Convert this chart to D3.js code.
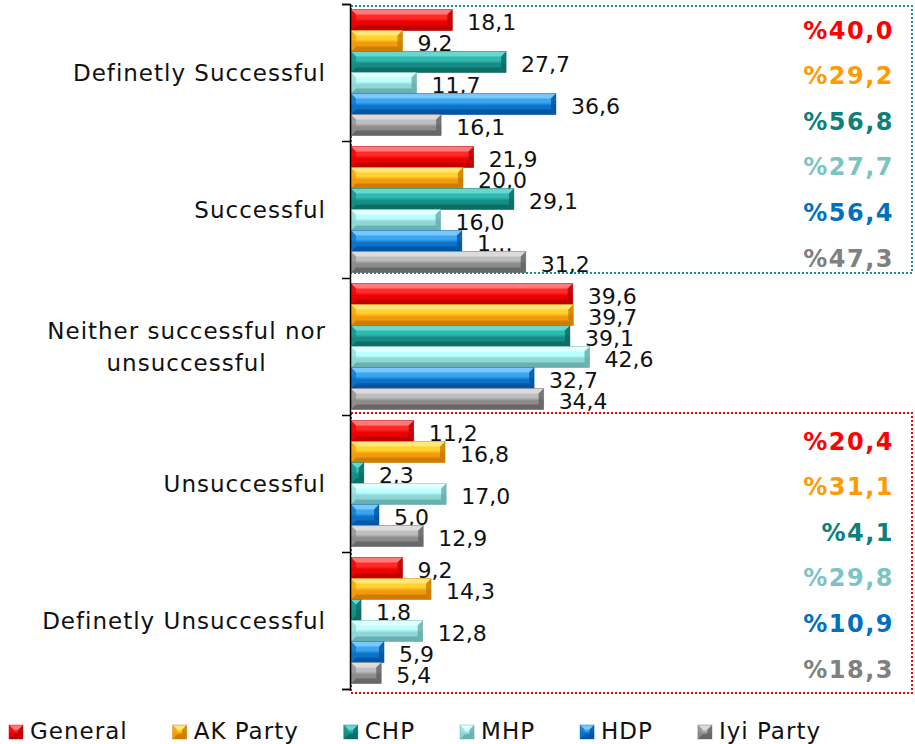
<!DOCTYPE html>
<html lang="en">
<head>
<meta charset="utf-8">
<title>Success ratings by party</title>
<script src="https://cdn.jsdelivr.net/npm/d3@7"></script>
<style>
  body { margin: 0; background: #fff; }
  svg { display: block; font-family: "DejaVu Sans", Verdana, sans-serif; }
  .cat { font-size: 23px; letter-spacing: 1px; fill: #111; }
  .val { font-size: 22px; fill: #111; }
  .pct { font-size: 24px; font-weight: bold; letter-spacing: 1.5px; }
  .legend text { font-size: 23px; letter-spacing: 1px; fill: #111; }
  .axis path, .axis line { stroke: #000; stroke-width: 1.5px; }
</style>
</head>
<body>
<svg width="915" height="744"></svg>
<script>
// data
var categories = ["Definetly Successful", "Successful", "Neither successful nor unsuccessful", "Unsuccessful", "Definetly Unsuccessful"];
var catLines = [["Definetly Successful"], ["Successful"], ["Neither successful nor", "unsuccessful"], ["Unsuccessful"], ["Definetly Unsuccessful"]];
var series = ["General", "AK Party", "CHP", "MHP", "HDP", "Iyi Party"];
var general  = [18.1, 21.9, 39.6, 11.2, 9.2];
var akParty  = [9.2, 20.0, 39.7, 16.8, 14.3];
var chp      = [27.7, 29.1, 39.1, 2.3, 1.8];
var mhp      = [11.7, 16.0, 42.6, 17.0, 12.8];
var hdp      = [36.6, 19.8, 32.7, 5.0, 5.9];
var iyiParty = [16.1, 31.2, 34.4, 12.9, 5.4];
// the label excel cut short
var shortLabels = [{category: "Successful", series: "HDP", text: "1\u2026"}];
var successGroup = ["Definetly Successful", "Successful"];
var failGroup = ["Unsuccessful", "Definetly Unsuccessful"];

var values = [general, akParty, chp, mhp, hdp, iyiParty];

// colours: highlight, upper body, lower body, shade
var shades = [
  ["#ff8a8a", "#ff2a2a", "#ec0000", "#b40000"],
  ["#ffeb8a", "#ffd22e", "#f39a0c", "#c47600"],
  ["#74dcd4", "#2fbab0", "#168c84", "#0a6660"],
  ["#eaffff", "#bcffff", "#8fd6d6", "#5fa6a6"],
  ["#86ccff", "#3aa6f2", "#0c72c8", "#004f9e"],
  ["#e0e0e0", "#bebebe", "#8c8c8c", "#5e5e5e"]
];
var pctColors = ["#ff0000", "#ff9a00", "#0e807a", "#7cc4c4", "#0070c0", "#808080"];

var svg = d3.select("svg");
var defs = svg.append("defs");

shades.forEach(function(c, i) {
  var gr = defs.append("linearGradient").attr("id", "grad" + i)
    .attr("x1", 0).attr("y1", 0).attr("x2", 0).attr("y2", 1);
  gr.append("stop").attr("offset", 0).attr("stop-color", c[1]);
  gr.append("stop").attr("offset", 0.42).attr("stop-color", c[1]);
  gr.append("stop").attr("offset", 0.58).attr("stop-color", c[2]);
  gr.append("stop").attr("offset", 1).attr("stop-color", c[2]);
});

var x = d3.scaleLinear().domain([0, 100]).range([351, 911]);
var y = d3.scaleBand().domain(categories).range([4, 689]);
var inner = d3.scaleBand().domain(series).range([0, y.bandwidth()]).paddingOuter(0.26);
var yEdge = d3.scaleLinear().domain([0, categories.length]).range([4, 689]);

function bevelBar(sel, w, h, i) {
  var c = shades[i];
  var b = Math.min(5, w / 2, h / 3);
  sel.append("rect").attr("width", w).attr("height", h).attr("fill", "url(#grad" + i + ")");
  var faces = [
    {p: [[0, 0], [w, 0], [w - b, b], [b, b]], f: c[0], o: 0.85},
    {p: [[0, h], [w, h], [w - b, h - b], [b, h - b]], f: c[3], o: 0.8},
    {p: [[0, 0], [b, b], [b, h - b], [0, h]], f: c[2], o: 0.7},
    {p: [[w, 0], [w - b, b], [w - b, h - b], [w, h]], f: c[3], o: 0.75}
  ];
  faces.forEach(function(fc) {
    sel.append("polygon").attr("points", fc.p.map(function(q) { return q.join(","); }).join(" "))
      .attr("fill", fc.f).attr("fill-opacity", fc.o);
  });
  sel.append("rect").attr("width", w).attr("height", h)
    .attr("fill", "none").attr("stroke", c[3]).attr("stroke-opacity", 0.5).attr("stroke-width", 0.8);
}

// dotted boxes + group totals
var boxes = [
  {cats: successGroup, color: "#1a8f8a", pad: [2, -5]},
  {cats: failGroup, color: "#ff0000", pad: [-2, 4]}
];
boxes.forEach(function(bx) {
  var top = y(bx.cats[0]) + bx.pad[0];
  var bottom = y(bx.cats[bx.cats.length - 1]) + y.bandwidth() + bx.pad[1];
  svg.append("rect")
    .attr("x", 351).attr("y", top).attr("width", 561).attr("height", bottom - top)
    .attr("fill", "none").attr("stroke", bx.color).attr("stroke-width", 2)
    .attr("stroke-dasharray", "2,2");

  var py = d3.scalePoint().domain(series)
    .range([y(bx.cats[0]) + 26, y(bx.cats[bx.cats.length - 1]) + y.bandwidth() - 20]);
  svg.append("g").selectAll("text")
    .data(series)
    .enter().append("text")
      .attr("class", "pct")
      .attr("x", 894)
      .attr("y", function(s) { return py(s); })
      .attr("dy", "0.36em")
      .attr("text-anchor", "end")
      .attr("fill", function(s, i) { return pctColors[i]; })
      .text(function(s, i) {
        var tot = d3.sum(bx.cats, function(cat) { return values[i][categories.indexOf(cat)]; });
        return "%" + tot.toFixed(1).replace(".", ",");
      });
});

// bars
var groups = svg.append("g").selectAll("g")
  .data(categories)
  .enter().append("g")
    .attr("transform", function(d) { return "translate(0," + y(d) + ")"; });

groups.each(function(cat, ci) {
  var g = d3.select(this);
  series.forEach(function(s, si) {
    var v = values[si][ci];
    var bar = g.append("g").attr("transform", "translate(" + x(0) + "," + inner(s) + ")");
    bevelBar(bar, x(v) - x(0), inner.bandwidth(), si);

    var short = shortLabels.filter(function(l) { return l.category === cat && l.series === s; })[0];
    g.append("text")
      .attr("class", "val")
      .attr("x", x(v) + 15)
      .attr("y", inner(s) + inner.bandwidth() / 2 + 10)
      .text(short ? short.text : v.toFixed(1).replace(".", ","));
  });
});

// axis with ticks between categories
svg.append("g")
  .attr("class", "axis")
  .attr("transform", "translate(350,0)")
  .call(d3.axisLeft(yEdge).tickValues(d3.range(categories.length + 1)).tickSize(8).tickFormat(""));

// category labels
categories.forEach(function(cat, ci) {
  var lines = catLines[ci];
  var cy = y(cat) + y.bandwidth() / 2;
  var t = svg.append("text").attr("class", "cat");
  lines.forEach(function(line, li) {
    t.append("tspan").text(line)
      .attr("y", cy + 8.4 + (li - (lines.length - 1) / 2) * 32);
  });
  var widths = [];
  t.selectAll("tspan").each(function() { widths.push(this.getComputedTextLength()); });
  var maxW = d3.max(widths);
  t.attr("text-anchor", "middle");
  t.selectAll("tspan").attr("x", 326 - maxW / 2);
});

// legend
var legend = svg.append("g").attr("class", "legend");
var lx = 9;
series.forEach(function(s, i) {
  var item = legend.append("g").attr("transform", "translate(" + lx + ",725)");
  bevelBar(item, 14, 14, i);
  var txt = item.append("text").attr("x", 21).attr("y", 13.5).text(s);
  lx += 21 + txt.node().getComputedTextLength() + 45;
});
</script>
</body>
</html>
